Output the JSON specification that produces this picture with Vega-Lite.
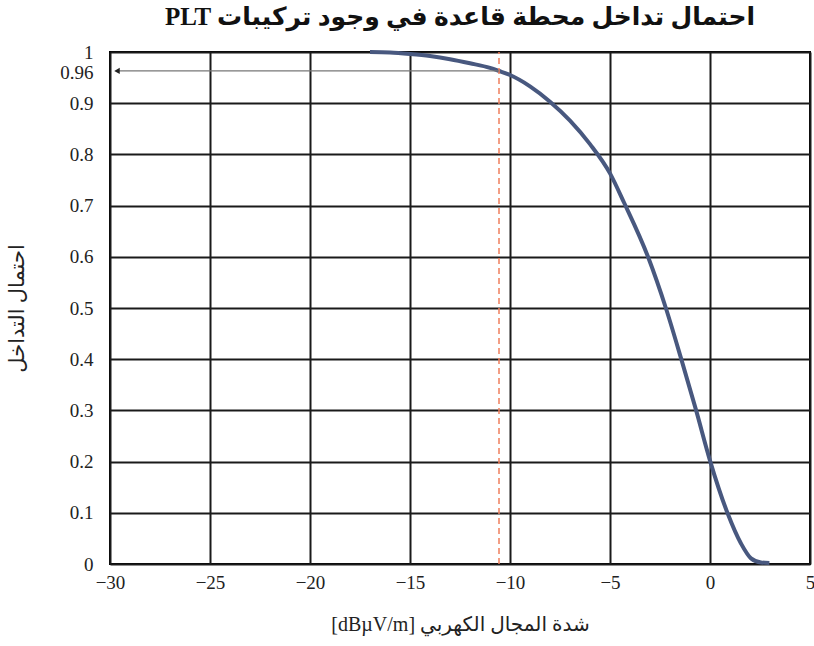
{
  "$schema": "https://vega.github.io/schema/vega-lite/v6.json",
  "autosize": {"type": "none"},
  "width": 700,
  "height": 512,
  "padding": {"left": 110, "top": 52, "right": 4, "bottom": 82},
  "background": "white",
  "config": {
    "view": {"stroke": "black", "strokeWidth": 2},
    "font": "Liberation Serif, DejaVu Sans",
    "axis": {
      "labelFont": "Liberation Serif, DejaVu Sans",
      "titleFont": "Liberation Serif, DejaVu Sans",
      "labelColor": "#222",
      "titleColor": "#222",
      "titleFontWeight": "normal",
      "ticks": false,
      "domain": false,
      "gridColor": "#1a1a1a",
      "gridWidth": 2,
      "gridOpacity": 1
    }
  },
  "title": {
    "text": "PLT احتمال تداخل محطة قاعدة في وجود تركيبات",
    "font": "Liberation Serif, DejaVu Sans",
    "fontSize": 25,
    "fontWeight": "bold",
    "color": "#111",
    "offset": 13,
    "anchor": "middle"
  },
  "layer": [
    {
      "data": {"values": [
        {"x": -17, "y": 1.0},
        {"x": -16, "y": 0.999},
        {"x": -15, "y": 0.996},
        {"x": -14, "y": 0.992},
        {"x": -13, "y": 0.986},
        {"x": -12, "y": 0.978},
        {"x": -11, "y": 0.969},
        {"x": -10.55, "y": 0.963},
        {"x": -10, "y": 0.955},
        {"x": -9, "y": 0.933},
        {"x": -8, "y": 0.903},
        {"x": -7, "y": 0.866},
        {"x": -6, "y": 0.82},
        {"x": -5, "y": 0.763},
        {"x": -4.3, "y": 0.706},
        {"x": -3.1, "y": 0.6},
        {"x": -2.2, "y": 0.499},
        {"x": -1.45, "y": 0.402},
        {"x": -0.7, "y": 0.301},
        {"x": 0, "y": 0.202},
        {"x": 0.88, "y": 0.099},
        {"x": 1.55, "y": 0.04},
        {"x": 2.05, "y": 0.011},
        {"x": 2.55, "y": 0.003},
        {"x": 2.97, "y": 0.002}
      ]},
      "mark": {"type": "line", "color": "#48587f", "strokeWidth": 4, "interpolate": "monotone"},
      "encoding": {
        "x": {
          "field": "x", "type": "quantitative",
          "scale": {"domain": [-30, 5], "nice": false},
          "axis": {
            "values": [-30, -25, -20, -15, -10, -5, 0, 5],
            "title": "[dBµV/m] شدة المجال الكهربي",
            "labelFontSize": 19,
            "titleFontSize": 20,
            "labelPadding": 9,
            "titlePadding": 22,
            "labelFlush": false
          }
        },
        "y": {
          "field": "y", "type": "quantitative",
          "scale": {"domain": [0, 1], "nice": false},
          "axis": {
            "values": [0, 0.1, 0.2, 0.3, 0.4, 0.5, 0.6, 0.7, 0.8, 0.9, 0.96, 1],
            "format": ".2~f",
            "title": "احتمال التداخل",
            "labelFontSize": 19,
            "titleFontSize": 21,
            "labelPadding": 17,
            "titlePadding": 32,
            "labelFlush": false,
            "gridOpacity": {"condition": {"test": "datum.value === 0.96", "value": 0}, "value": 1}
          }
        },
        "order": {"field": "x", "type": "quantitative"}
      }
    },
    {
      "data": {"values": [{"x": -10.55, "y": 0, "y2": 1}]},
      "mark": {"type": "rule", "color": "#ef7f5c", "strokeWidth": 1.5, "strokeDash": [6, 4]},
      "encoding": {
        "x": {"field": "x", "type": "quantitative"},
        "y": {"field": "y", "type": "quantitative"},
        "y2": {"field": "y2"}
      }
    },
    {
      "data": {"values": [{"x": -10.55, "x2": -29.6, "y": 0.963}]},
      "mark": {"type": "rule", "color": "#777", "strokeWidth": 1.2},
      "encoding": {
        "x": {"field": "x", "type": "quantitative"},
        "x2": {"field": "x2"},
        "y": {"field": "y", "type": "quantitative"}
      }
    },
    {
      "data": {"values": [{"x": -29.65, "y": 0.963}]},
      "mark": {"type": "point", "shape": "triangle-left", "filled": true, "color": "#222", "size": 40, "opacity": 1},
      "encoding": {
        "x": {"field": "x", "type": "quantitative"},
        "y": {"field": "y", "type": "quantitative"}
      }
    }
  ]
}
